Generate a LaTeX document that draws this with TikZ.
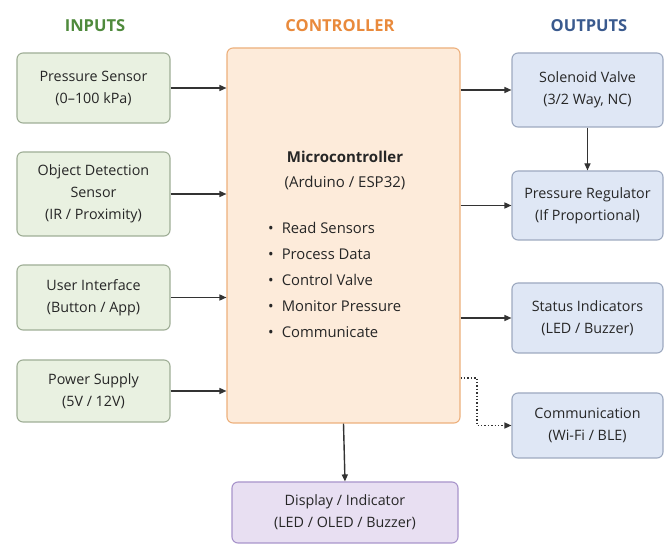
\documentclass[tikz,border=0pt]{standalone}
\usepackage{fontspec}
\setmainfont{Open Sans}
\usetikzlibrary{arrows.meta}
\definecolor{ingreen}{HTML}{E9F1E1}
\definecolor{inborder}{HTML}{9FAE96}
\definecolor{ctrlfill}{HTML}{FDEBDA}
\definecolor{ctrlborder}{HTML}{EDB07C}
\definecolor{outfill}{HTML}{DFE7F5}
\definecolor{outborder}{HTML}{9DA9C0}
\definecolor{dispfill}{HTML}{E8DFF2}
\definecolor{dispborder}{HTML}{A894CB}
\definecolor{ttlgreen}{HTML}{4F8A3C}
\definecolor{ttlorange}{HTML}{E98A3C}
\definecolor{ttlblue}{HTML}{3A5A8E}
\definecolor{txt}{HTML}{262626}
\definecolor{arr}{HTML}{333333}
\tikzset{
  x=1pt, y=-1pt,
  box/.style={draw, line width=1.1pt, rounded corners=6pt, align=center, text=txt,
    font=\fontsize{14.3}{22}\selectfont, inner sep=0pt},
  inbox/.style={box, fill=ingreen, draw=inborder, minimum width=153pt},
  outbox/.style={box, fill=outfill, draw=outborder, minimum width=151pt},
  ttl/.style={font=\fontsize{16.5}{18}\selectfont\bfseries},
  conn/.style={draw=arr, line width=1.4pt, -{Triangle[length=7pt,width=6pt]}},
  dotconn/.style={conn, dotted, line width=1.2pt},
  bul/.style={anchor=west, text=txt, font=\fontsize{14.8}{16}\selectfont, inner sep=0pt},
}
\begin{document}
\begin{tikzpicture}
\useasboundingbox (0,0) rectangle (665,553);
\fill[white] (0,0) rectangle (665,553);

% titles
\node[ttl, text=ttlgreen] (tin) at (95,26) {INPUTS};
\node[ttl, text=ttlorange] (tctrl) at (340,26) {CONTROLLER};
\node[ttl, text=ttlblue] (tout) at (589,26) {OUTPUTS};

% inputs
\node[inbox, minimum height=70pt] (ps) at (93.5,88) {Pressure Sensor\\(0–100 kPa)};
\node[inbox, minimum height=84pt] (od) at (93.5,194) {Object Detection\\Sensor\\(IR / Proximity)};
\node[inbox, minimum height=65pt] (ui) at (93.5,297.5) {User Interface\\(Button / App)};
\node[inbox, minimum height=62pt] (pw) at (93.5,391) {Power Supply\\(5V / 12V)};

% controller
\node[box, fill=ctrlfill, draw=ctrlborder, minimum width=233pt, minimum height=375pt] (ctrl) at (343.5,235.5) {};
\node[text=txt, font=\fontsize{15}{25}\selectfont, align=center] (mc) at (345,170)
  {\textbf{Microcontroller}\\(Arduino / ESP32)};
\node[bul] (b1) at (268,228) {\textbullet\hspace{8pt}Read Sensors};
\node[bul] (b2) at (268,254) {\textbullet\hspace{8pt}Process Data};
\node[bul] (b3) at (268,280) {\textbullet\hspace{8pt}Control Valve};
\node[bul] (b4) at (268,306) {\textbullet\hspace{8pt}Monitor Pressure};
\node[bul] (b5) at (268,332) {\textbullet\hspace{8pt}Communicate};

% outputs
\node[outbox, minimum height=74pt] (sv) at (587.5,90) {Solenoid Valve\\(3/2 Way, NC)};
\node[outbox, minimum height=69pt] (pr) at (587.5,205.5) {Pressure Regulator\\(If Proportional)};
\node[outbox, minimum height=70pt] (si) at (587.5,318) {Status Indicators\\(LED / Buzzer)};
\node[outbox, minimum height=65pt] (cm) at (587.5,425.5) {Communication\\(Wi-Fi / BLE)};

% display
\node[box, fill=dispfill, draw=dispborder, minimum width=226pt, minimum height=61pt] (dp) at (345,512.5)
  {Display / Indicator\\(LED / OLED / Buzzer)};

% connectors
\draw[conn] (ps.east) -- (ps.east -| ctrl.west);
\draw[conn] (od.east) -- (od.east -| ctrl.west);
\draw[conn] (ui.east) -- (ui.east -| ctrl.west);
\draw[conn] (pw.east) -- (pw.east -| ctrl.west);
\draw[conn] (sv.west -| ctrl.east) -- (sv.west);
\draw[conn] (pr.west -| ctrl.east) -- (pr.west);
\draw[conn] (si.west -| ctrl.east) -- (si.west);
\draw[conn, line width=1.1pt] (sv.south) -- (pr.north);
\coordinate (c1) at (477,378);
\draw[dotconn] (c1 -| ctrl.east) -- (c1) |- (cm.west);
\draw[conn] (ctrl.south) -- (dp.north);
\end{tikzpicture}
\end{document}
